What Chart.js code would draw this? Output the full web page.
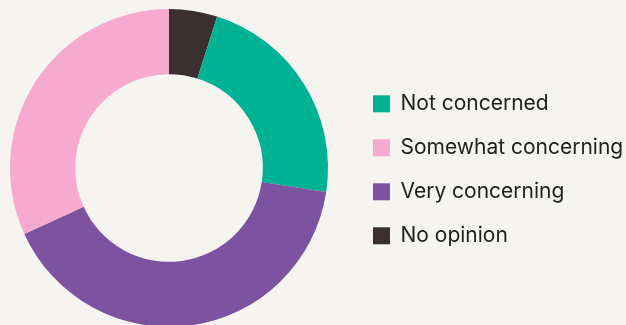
<!DOCTYPE html>
<html>
<head>
<meta charset="utf-8">
<script src="https://cdn.jsdelivr.net/npm/chart.js@4.4.0/dist/chart.umd.min.js"></script>
<style>
  html, body { margin: 0; padding: 0; background: #f5f4f0; overflow: hidden; }
  body { width: 626px; height: 325px; position: relative; }
  #wrap { position: absolute; left: -12px; top: 0; width: 638px; height: 327px; }
</style>
</head>
<body>
<div id="wrap"><canvas id="concernChart"></canvas></div>
<script>
// categories in legend order
const categories = ['Not concerned', 'Somewhat concerning', 'Very concerning', 'No opinion'];
const shares = [22.5, 31.8, 40.8, 4.9];
const sliceColors = ['#00b294', '#f6aacd', '#7d52a1', '#3a302f'];
// slices go clockwise from the top in this order
const sliceOrder = [3, 0, 2, 1];

let concernChart;

document.addEventListener('DOMContentLoaded', () => {
    dibujarGrafico();
});

function dibujarGrafico() {
    const ctx = document.getElementById('concernChart').getContext('2d');
    concernChart = new Chart(ctx, {
        type: 'doughnut',
        data: {
            labels: sliceOrder.map(i => categories[i]),
            datasets: [{
                data: sliceOrder.map(i => shares[i]),
                backgroundColor: sliceOrder.map(i => sliceColors[i]),
                borderWidth: 0,
                hoverOffset: 0
            }]
        },
        options: {
            responsive: true,
            maintainAspectRatio: false,
            animation: false,
            cutout: '59%',
            layout: {
                padding: { top: 9, bottom: 0, left: 0, right: 0 }
            },
            plugins: {
                legend: {
                    position: 'right',
                    maxWidth: 276,
                    // empty title only nudges the items down a little
                    title: {
                        display: true,
                        text: '',
                        font: { size: 1 },
                        padding: { top: 0, bottom: 2.4 }
                    },
                    labels: {
                        boxWidth: 17,
                        boxHeight: 17,
                        padding: 23,
                        color: '#1f1f1f',
                        font: { family: 'Inter', size: 21 },
                        sort: (a, b) => categories.indexOf(a.text) - categories.indexOf(b.text)
                    }
                },
                tooltip: { enabled: false }
            }
        }
    });
}
</script>
</body>
</html>
